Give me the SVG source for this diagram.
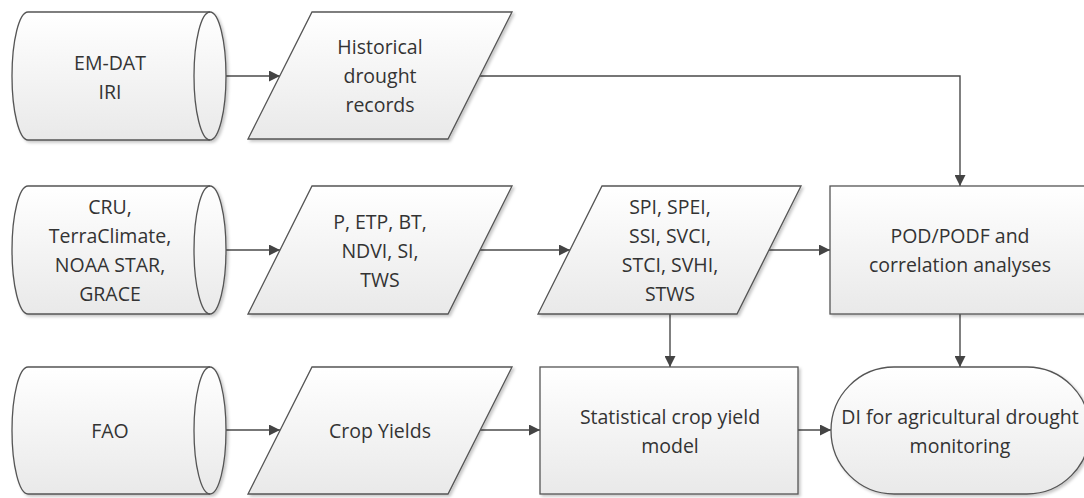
<svg xmlns="http://www.w3.org/2000/svg" width="1084" height="498" viewBox="0 0 1084 498">
<style>
.shape{fill:url(#g);stroke:#555;stroke-width:1.3;filter:url(#sh)}
.inner{fill:none;stroke:#555;stroke-width:1.3}
.conn{fill:none;stroke:#4a4a4a;stroke-width:1.4;marker-end:url(#arr)}
.conn0{fill:none;stroke:#4a4a4a;stroke-width:1.4}
text{font-family:"Open Sans","Noto Sans",sans-serif;font-size:19.5px;fill:#333;text-anchor:middle}
</style>
<defs>
<linearGradient id="g" x1="0" y1="0" x2="0" y2="1">
<stop offset="0" stop-color="#ffffff"/>
<stop offset="1" stop-color="#e9e9e9"/>
</linearGradient>
<filter id="sh" x="-10%" y="-10%" width="120%" height="125%">
<feDropShadow dx="2" dy="2" stdDeviation="1.5" flood-color="#000" flood-opacity="0.22"/>
</filter>
<marker id="arr" markerUnits="userSpaceOnUse" markerWidth="11" markerHeight="11" refX="11" refY="5.5" orient="auto">
<path d="M0,0 L11,5.5 L0,11 z" fill="#444"/>
</marker>
</defs>
<rect width="1084" height="498" fill="#fff"/>

<g id="connectors">
<path class="conn" d="M226,76 L280,76"/>
<path class="conn" d="M480,76 L960,76 L960,186"/>
<path class="conn" d="M226,250 L280,250"/>
<path class="conn" d="M480,250 L570,250"/>
<path class="conn" d="M769,250 L830,250"/>
<path class="conn" d="M670,314 L670,367"/>
<path class="conn" d="M960,314 L960,367"/>
<path class="conn" d="M226,430 L280,430"/>
<path class="conn" d="M480,430 L540,430"/>
<path class="conn" d="M798,430 L831,430"/>
</g>

<g id="emdat">
<path class="shape" d="M28,12 L210,12 A16,64 0 0 1 210,140 L28,140 A16,64 0 0 1 28,12 Z"/>
<path class="inner" d="M210,12 A16,64 0 0 0 210,140"/>
<text x="110" y="70">EM-DAT</text>
<text x="110" y="99">IRI</text>
</g>

<g id="historical">
<path class="shape" d="M312,12 L512,12 L448,139 L248,139 Z"/>
<text x="380" y="54">Historical</text>
<text x="380" y="83">drought</text>
<text x="380" y="112">records</text>
</g>

<g id="cru">
<path class="shape" d="M28,186 L210,186 A16,64 0 0 1 210,314 L28,314 A16,64 0 0 1 28,186 Z"/>
<path class="inner" d="M210,186 A16,64 0 0 0 210,314"/>
<text x="110" y="214">CRU,</text>
<text x="110" y="243">TerraClimate,</text>
<text x="110" y="272">NOAA STAR,</text>
<text x="110" y="301">GRACE</text>
</g>

<g id="vars">
<path class="shape" d="M312,186 L512,186 L448,314 L248,314 Z"/>
<text x="380" y="229">P, ETP, BT,</text>
<text x="380" y="258">NDVI, SI,</text>
<text x="380" y="287">TWS</text>
</g>

<g id="indices">
<path class="shape" d="M602,186 L801,186 L737,314 L538,314 Z"/>
<text x="670" y="214">SPI, SPEI,</text>
<text x="670" y="243">SSI, SVCI,</text>
<text x="670" y="272">STCI, SVHI,</text>
<text x="670" y="301">STWS</text>
</g>

<g id="pod">
<rect class="shape" x="830" y="186" width="260" height="128"/>
<text x="960" y="243">POD/PODF and</text>
<text x="960" y="272">correlation analyses</text>
</g>

<g id="fao">
<path class="shape" d="M28,367 L210,367 A16,63.5 0 0 1 210,494 L28,494 A16,63.5 0 0 1 28,367 Z"/>
<path class="inner" d="M210,367 A16,63.5 0 0 0 210,494"/>
<text x="110" y="438">FAO</text>
</g>

<g id="yields">
<path class="shape" d="M312,367 L512,367 L448,494 L248,494 Z"/>
<text x="380" y="438">Crop Yields</text>
</g>

<g id="model">
<rect class="shape" x="540" y="367" width="258" height="127"/>
<text x="670" y="424">Statistical crop yield</text>
<text x="670" y="453">model</text>
</g>

<g id="di">
<rect class="shape" x="831" y="367" width="259" height="127" rx="63" ry="63.5"/>
<text x="960" y="424">DI for agricultural drought</text>
<text x="960" y="453">monitoring</text>
</g>
</svg>
